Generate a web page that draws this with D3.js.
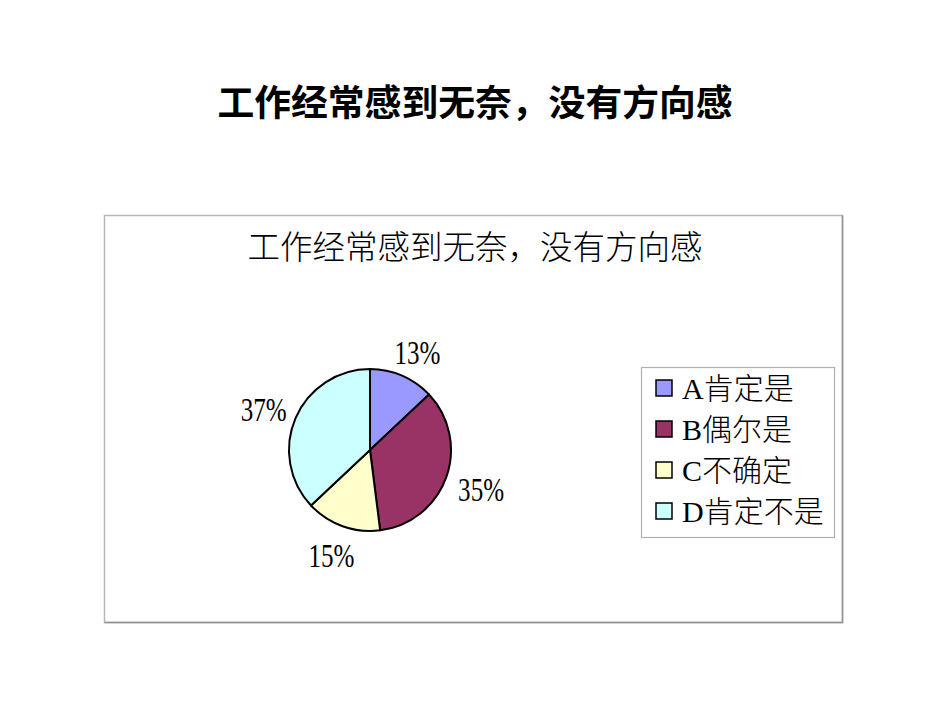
<!DOCTYPE html>
<html>
<head>
<meta charset="utf-8">
<script src="https://cdn.jsdelivr.net/npm/d3@7"></script>
<style>
  html, body { margin: 0; padding: 0; background: #fff; }
  svg { display: block; }
</style>
</head>
<body>
<svg id="chart" width="950" height="713"></svg>
<script>
const categories = ["A肯定是", "B偶尔是", "C不确定", "D肯定不是"];
const values = [13, 35, 15, 37];
const valueLabels = ["13%", "35%", "15%", "37%"];
const colors = ["#9999FF", "#993366", "#FFFFCC", "#CCFFFF"];
const mainTitle = "工作经常感到无奈，没有方向感";
const chartTitle = "工作经常感到无奈，没有方向感";

const svg = d3.select("#chart");
const serif = "'Liberation Serif', 'Noto Sans CJK SC', serif";
const cjk = "'Noto Sans CJK SC', sans-serif";

// Main slide title
svg.append("text")
  .attr("x", 475).attr("y", 116)
  .attr("text-anchor", "middle")
  .attr("font-family", cjk)
  .attr("font-weight", "bold")
  .attr("font-size", 36.8)
  .attr("fill", "#000")
  .text(mainTitle);

// Chart frame
const box = {x: 104.5, y: 215.5, w: 738, h: 407};
svg.append("rect")
  .attr("x", box.x).attr("y", box.y).attr("width", box.w).attr("height", box.h)
  .attr("fill", "#fff").attr("stroke", "#b8b8b8").attr("stroke-width", 1.5);
svg.append("path")
  .attr("d", `M${box.x + box.w},${box.y} V${box.y + box.h} H${box.x}`)
  .attr("fill", "none").attr("stroke", "#909090").attr("stroke-width", 1.5);

// Chart title
svg.append("text")
  .attr("x", 475).attr("y", 259)
  .attr("text-anchor", "middle")
  .attr("font-family", cjk)
  .attr("font-weight", 300)
  .attr("font-size", 32.5)
  .attr("fill", "#000")
  .text(chartTitle);

// Pie
const cx = 370, cy = 450, R = 81;
const pie = d3.pie().sort(null).value(d => d)(values);
const arc = d3.arc().innerRadius(0).outerRadius(R);
const g = svg.append("g").attr("transform", `translate(${cx},${cy})`);
g.selectAll("path.slice")
  .data(pie)
  .join("path")
  .attr("class", "slice")
  .attr("d", arc)
  .attr("fill", (d, i) => colors[i])
  .attr("stroke", "#000")
  .attr("stroke-width", 2)
  .attr("stroke-linejoin", "round");

// Labels outside the pie (best-fit style)
const labelW = 46, labelH = 30, r0 = R + 13;
g.selectAll("g.lbl")
  .data(pie)
  .join("g")
  .attr("class", "lbl")
  .attr("transform", d => {
    const a = (d.startAngle + d.endAngle) / 2;
    const ux = Math.sin(a), uy = -Math.cos(a);
    const x = r0 * ux + ux * labelW / 2 + 1;
    const y = r0 * uy + uy * labelH / 2 + 3;
    return `translate(${x},${y}) scale(0.76,1)`;
  })
  .append("text")
  .attr("text-anchor", "middle")
  .attr("dominant-baseline", "central")
  .attr("font-family", serif)
  .attr("font-size", 33)
  .attr("fill", "#000")
  .text((d, i) => valueLabels[i]);

// Legend
const lg = {x: 641.5, y: 367.5, w: 193, h: 170};
svg.append("rect")
  .attr("x", lg.x).attr("y", lg.y).attr("width", lg.w).attr("height", lg.h)
  .attr("fill", "#fff").attr("stroke", "#b0b0b0").attr("stroke-width", 1.2);
const ly = d3.scalePoint().domain(categories).range([388, 511]);
const items = svg.selectAll("g.leg")
  .data(categories)
  .join("g")
  .attr("class", "leg")
  .attr("transform", d => `translate(0,${ly(d)})`);
items.append("rect")
  .attr("x", 656).attr("y", -8).attr("width", 16).attr("height", 16)
  .attr("fill", (d, i) => colors[i])
  .attr("stroke", "#000").attr("stroke-width", 1.5);
items.append("text")
  .attr("x", 682).attr("y", 11)
  .attr("font-family", serif)
  .attr("font-weight", 300)
  .attr("font-size", 30)
  .attr("fill", "#000")
  .text(d => d);
</script>
</body>
</html>
